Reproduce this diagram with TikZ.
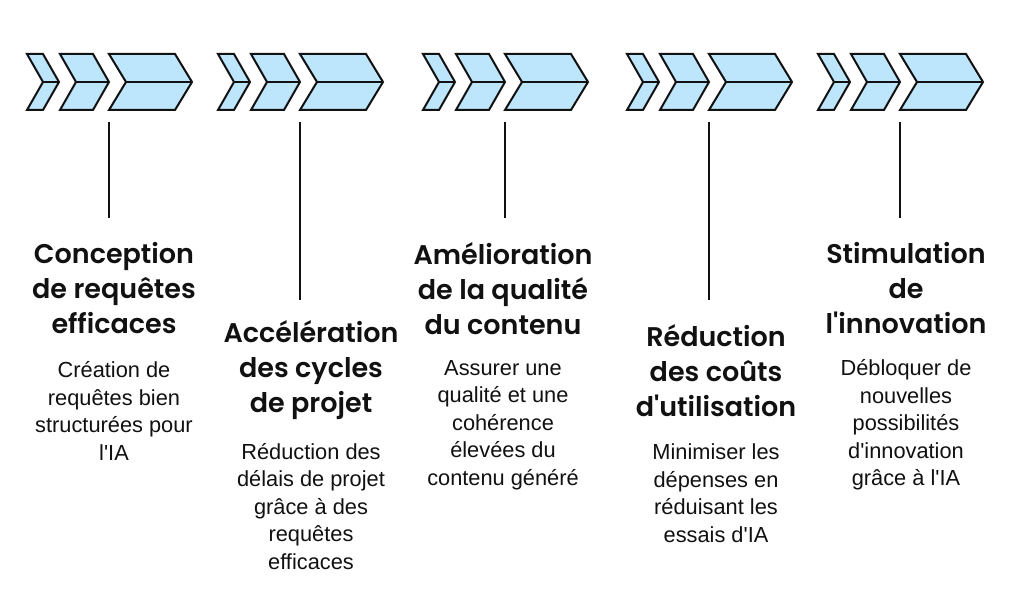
\documentclass[tikz,border=0pt]{standalone}
\usepackage{fontspec}
\setmainfont{Liberation Sans}
\newfontfamily\titlefont{Poppins SemiBold}
\definecolor{chevfill}{HTML}{BDE5FB}
\definecolor{ink}{HTML}{111111}
\newcommand{\ap}{\textquotesingle}
\begin{document}
\begin{tikzpicture}[x=1pt,y=-1pt,
  chev/.style={draw=ink,fill=chevfill,line width=2pt,line join=miter},
  midline/.style={draw=ink,line width=2pt},
  stem/.style={draw=ink,line width=2pt},
  titletext/.style={font=\titlefont\fontsize{27}{35}\selectfont,text=ink,align=center,inner sep=0pt},
  bodytext/.style={font=\fontsize{21.8}{27.5}\selectfont,text=ink,align=center,inner sep=0pt}]
\useasboundingbox (0,0) rectangle (1024,601);
\fill[white] (0,0) rectangle (1024,601);
\newcommand{\chevgroup}[2]{%
  \begin{scope}[xshift=#1]
    \path[chev] (0,54) -- (16,54) -- (32,82) -- (16,110) -- (0,110) -- (16,82) -- cycle;
    \path[midline] (16,82) -- (32,82);
    \path[chev] (33,54) -- (66,54) -- (82,82) -- (66,110) -- (33,110) -- (49,82) -- cycle;
    \path[midline] (49,82) -- (82,82);
    \path[chev] (82,54) -- (148,54) -- (165,82) -- (148,110) -- (82,110) -- (99,82) -- cycle;
    \path[midline] (99,82) -- (165,82);
    \coordinate (#2) at (82,122);
  \end{scope}}
\chevgroup{27}{s1}
\chevgroup{218}{s2}
\chevgroup{423}{s3}
\chevgroup{627}{s4}
\chevgroup{818}{s5}
% end points of stems
\coordinate (e1) at (109,218);
\coordinate (e2) at (300,300);
\coordinate (e3) at (505,218);
\coordinate (e4) at (709,300);
\coordinate (e5) at (900,218);
\foreach \i in {1,...,5} {\draw[stem] (s\i) -- (e\i);}
% titles
\node[titletext] (t1) at (114,288.5) {Conception\\de requêtes\\efficaces};
\node[titletext] (t2) at (311,370.5) {Accélération\\des cycles\\de projet};
\node[titletext] (t3) at (503,288.5) {Amélioration\\de la qualité\\du contenu};
\node[titletext] (t4) at (716,370.5) {Réduction\\des coûts\\d\ap utilisation};
\node[titletext] (t5) at (906,288.5) {Stimulation\\de\\l\ap innovation};
% bodies
\node[bodytext] (b1) at (114,411) {Création de\\requêtes bien\\structurées pour\\l\ap IA};
\node[bodytext] (b2) at (311,506.5) {Réduction des\\délais de projet\\grâce à des\\requêtes\\efficaces};
\node[bodytext] (b3) at (503,425) {Assurer une\\qualité et une\\cohérence\\élevées du\\contenu généré};
\node[bodytext] (b4) at (716,493) {Minimiser les\\dépenses en\\réduisant les\\essais d\ap IA};
\node[bodytext] (b5) at (906,425) {Débloquer de\\nouvelles\\possibilités\\d\ap innovation\\grâce à l\ap IA};
\end{tikzpicture}
\end{document}
